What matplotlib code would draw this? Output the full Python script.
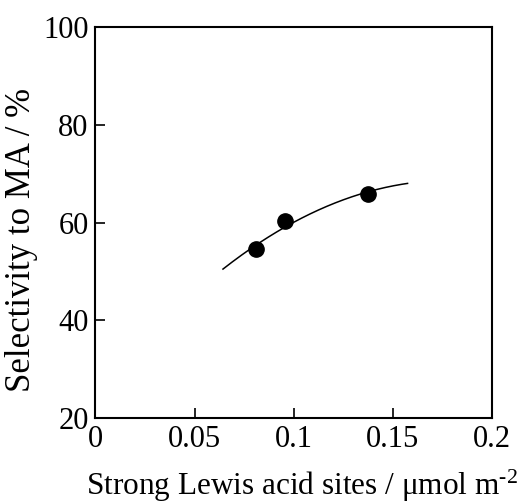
import matplotlib
matplotlib.use("Agg")
import matplotlib.pyplot as plt
import numpy as np

plt.rcParams['font.family'] = ['Liberation Serif', 'DejaVu Serif']
plt.rcParams['mathtext.fontset'] = 'custom'
plt.rcParams['mathtext.rm'] = 'Liberation Serif'
plt.rcParams['mathtext.it'] = 'Liberation Serif:italic'

# data
lewis_sites = [0.0808, 0.0958, 0.1372]
selectivity = [54.5, 60.3, 65.9]

# points
curve_x = [0.0643, 0.0808, 0.0958, 0.1157, 0.1372, 0.1574]
curve_y = [50.8, 54.6, 59.4, 63.6, 65.9, 68.1]

x_ticks = [0, 0.05, 0.1, 0.15, 0.2]
x_tick_labels = ["0", "0.05", "0.1", "0.15", "0.2"]
y_ticks = [20, 40, 60, 80, 100]
y_tick_labels = ["20", "40", "60", "80", "100"]

fig = plt.figure(figsize=(5.19, 5.03), dpi=100)
ax = fig.add_axes([0.184, 0.169, 0.764, 0.777])

coef = np.polyfit(curve_x, curve_y, 2)
xs = np.linspace(min(curve_x), max(curve_x), 200)
ax.plot(xs, np.polyval(coef, xs), color='black', lw=1.1)
ax.plot(lewis_sites, selectivity, 'o', color='black', ms=11)

ax.set_xlim(0, 0.2)
ax.set_ylim(20, 100)
ax.set_xticks(x_ticks)
ax.set_xticklabels(x_tick_labels)
ax.set_yticks(y_ticks)
ax.set_yticklabels(y_tick_labels)
ax.tick_params(direction='in', length=7, width=1.2, labelsize=22, pad=5,
               top=False, right=False)
for s in ax.spines.values():
    s.set_linewidth(1.5)

ax.set_xlabel("Strong Lewis acid sites / μmol m$^{\\mathrm{\u2010}2}$", fontsize=22.5)
ax.xaxis.set_label_coords(0.521, -0.127)
ax.set_ylabel("Selectivity to MA / %", fontsize=25)
ax.yaxis.set_label_coords(-0.145, 0.455)

fig.savefig("out.png", dpi=100)
